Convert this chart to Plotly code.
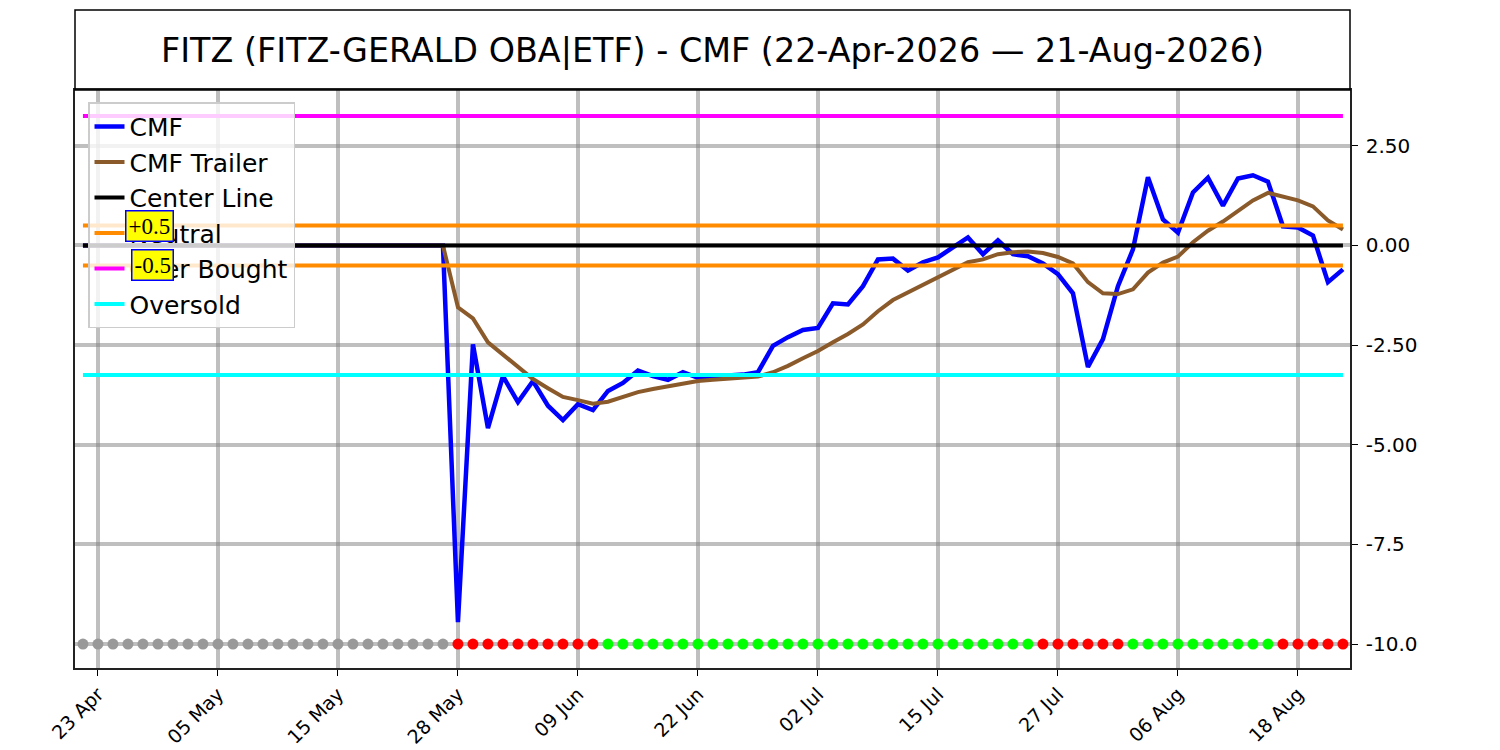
import pandas as pd
import plotly.graph_objects as go

# trading days (NYSE calendar)
holidays = ["2026-05-25", "2026-06-19", "2026-07-03"]
dates = pd.bdate_range("2026-04-22", "2026-08-21", freq="C", holidays=holidays)
x = [d.strftime("%Y-%m-%d") for d in dates]

cmf = [0.0] * 25 + [
    -9.45, -2.48, -4.58, -3.28, -3.93, -3.40, -4.02, -4.38, -3.98, -4.13,
    -3.65, -3.45, -3.14, -3.28, -3.37, -3.18, -3.32, -3.28, -3.26, -3.24,
    -3.18, -2.52, -2.30, -2.12, -2.07, -1.45, -1.48, -1.02, -0.35, -0.33,
    -0.63, -0.42, -0.30, -0.05, 0.20, -0.22, 0.13, -0.22, -0.27, -0.45,
    -0.72, -1.20, -3.05, -2.35, -1.02, -0.10, 1.71, 0.65, 0.32, 1.33,
    1.70, 1.00, 1.68, 1.76, 1.60, 0.48, 0.45, 0.25, -0.92, -0.60,
]
cmf_trailer = [0.0] * 25 + [
    -1.55, -1.83, -2.43, -2.73, -3.05, -3.35, -3.58, -3.80, -3.88, -3.97,
    -3.92, -3.80, -3.68, -3.60, -3.53, -3.47, -3.40, -3.37, -3.34, -3.32,
    -3.29, -3.18, -3.02, -2.83, -2.65, -2.43, -2.22, -1.98, -1.65, -1.37,
    -1.18, -1.00, -0.80, -0.62, -0.42, -0.35, -0.22, -0.17, -0.15, -0.19,
    -0.29, -0.45, -0.92, -1.20, -1.22, -1.10, -0.68, -0.43, -0.28, 0.08,
    0.37, 0.60, 0.87, 1.13, 1.32, 1.23, 1.13, 0.98, 0.63, 0.40,
]

center_level = 0.0
neutral_levels = [0.5, -0.5]
overbought_level = 3.25
oversold_level = -3.25
signal_level = -10.0

# signal dot colours as runs: (colour, count)
signal_runs = [("#999999", 25), ("#ff0000", 10), ("#00ff00", 29),
               ("#ff0000", 6), ("#00ff00", 10), ("#ff0000", 5)]
signal_colors = [c for c, n in signal_runs for _ in range(n)]

tick_dates = ["2026-04-23", "2026-05-05", "2026-05-15", "2026-05-28", "2026-06-09",
              "2026-06-22", "2026-07-02", "2026-07-15", "2026-07-27", "2026-08-06",
              "2026-08-18"]
tick_labels = ["23 Apr", "05 May", "15 May", "28 May", "09 Jun", "22 Jun",
               "02 Jul", "15 Jul", "27 Jul", "06 Aug", "18 Aug"]
y_ticks = [2.5, 0.0, -2.5, -5.0, -7.5, -10.0]
y_labels = ["2.50", "0.00", "-2.50", "-5.00", "-7.5", "-10.0"]

n = len(x)
fig = go.Figure()

fig.add_trace(go.Scatter(x=x, y=[signal_level] * n, mode="markers",
                         marker=dict(color=signal_colors, size=11),
                         showlegend=False, hoverinfo="skip"))
fig.add_trace(go.Scatter(x=x, y=cmf, mode="lines", name="CMF",
                         line=dict(color="#0000ff", width=4.5)))
fig.add_trace(go.Scatter(x=x, y=cmf_trailer, mode="lines", name="CMF Trailer",
                         line=dict(color="#8b5a2b", width=4)))
fig.add_trace(go.Scatter(x=x, y=[center_level] * n, mode="lines", name="Center Line",
                         line=dict(color="black", width=4)))
for k, lvl in enumerate(neutral_levels):
    fig.add_trace(go.Scatter(x=x, y=[lvl] * n, mode="lines", name="Neutral",
                             showlegend=(k == 0),
                             line=dict(color="#ff8c00", width=4)))
fig.add_trace(go.Scatter(x=x, y=[overbought_level] * n, mode="lines", name="Over Bought",
                         line=dict(color="#ff00ff", width=4)))
fig.add_trace(go.Scatter(x=x, y=[oversold_level] * n, mode="lines", name="Oversold",
                         line=dict(color="#00ffff", width=4)))

for lvl, txt in zip(neutral_levels, ["+0.5", "-0.5"]):
    fig.add_annotation(x=0.078, xref="paper", y=lvl, yref="y", text=txt,
                       xanchor="right", yanchor="middle", showarrow=False,
                       font=dict(family="Liberation Serif", size=23, color="black"),
                       bgcolor="#ffff00", bordercolor="#0000ff", borderwidth=1.5, borderpad=2)

# title box
fig.add_shape(type="rect", xref="paper", yref="paper", x0=0, x1=1, y0=1, y1=1 + 80 / 578,
              line=dict(color="black", width=1.5), fillcolor="rgba(0,0,0,0)")

fig.update_layout(
    width=1500, height=750,
    margin=dict(l=67, r=158, t=82, b=90, autoexpand=False),
    paper_bgcolor="white", plot_bgcolor="white",
    font=dict(family="DejaVu Sans", color="black"),
    title=dict(text="FITZ (FITZ-GERALD OBA|ETF) - CMF (22-Apr-2026 — 21-Aug-2026)",
               x=0.4697, xanchor="center", y=1 - 42 / 750, yanchor="middle",
               font=dict(size=33.4, family="DejaVu Sans", color="black")),
    legend=dict(x=0.0102, y=0.979, xanchor="left", yanchor="top",
                bgcolor="rgba(255,255,255,0.8)", bordercolor="#cccccc", borderwidth=1.5,
                font=dict(size=25, family="DejaVu Sans")),
    showlegend=True,
)
fig.update_xaxes(type="category", range=[-0.53, 84.47], automargin=False,
                 tickvals=tick_dates, ticktext=tick_labels, tickangle=-45,
                 tickfont=dict(size=19), ticks="outside", ticklen=6, tickcolor="black",
                 showgrid=True, gridcolor="rgba(128,128,128,0.5)", gridwidth=4,
                 showline=True, linecolor="#222222", linewidth=1.5, mirror=True)
fig.update_yaxes(side="right", range=[-10.6, 3.9], automargin=False,
                 tickvals=y_ticks, ticktext=y_labels, ticklabelstandoff=4,
                 tickfont=dict(size=20), ticks="outside", ticklen=6, tickcolor="black",
                 showgrid=True, gridcolor="rgba(128,128,128,0.5)", gridwidth=4,
                 zeroline=False,
                 showline=True, linecolor="#222222", linewidth=1.5, mirror=True)

fig.write_html("out.html")
